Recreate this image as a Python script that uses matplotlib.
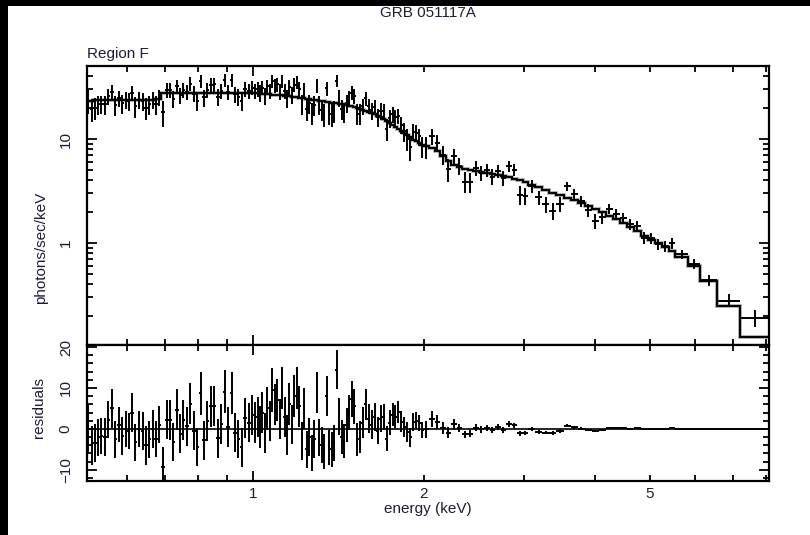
import numpy as np
import matplotlib.pyplot as plt
from matplotlib.patches import Rectangle
from matplotlib.ticker import FixedLocator, FixedFormatter, NullFormatter

plt.rcParams['font.family'] = ['Liberation Sans', 'DejaVu Sans']

# channel boundaries (keV) after grouping
edges = [
    0.510, 0.517, 0.524, 0.531, 0.538, 0.545, 0.553, 0.561, 0.569, 0.577, 0.585,
    0.593, 0.601, 0.609, 0.617, 0.626, 0.635, 0.644, 0.653, 0.662, 0.671, 0.680,
    0.690, 0.700, 0.710, 0.720, 0.730, 0.740, 0.750, 0.760, 0.771, 0.782, 0.793,
    0.804, 0.815, 0.826, 0.838, 0.850, 0.862, 0.874, 0.886, 0.898, 0.911, 0.924,
    0.937, 0.950, 0.963, 0.977, 0.991,
    1.005, 1.015, 1.025, 1.035, 1.045, 1.055, 1.066, 1.077, 1.088, 1.099, 1.110,
    1.121, 1.132, 1.143, 1.154, 1.166, 1.178, 1.190, 1.202, 1.214, 1.226, 1.238,
    1.251, 1.264, 1.277, 1.290, 1.303, 1.316, 1.329, 1.342, 1.356, 1.370, 1.384,
    1.398, 1.412, 1.426, 1.440, 1.455, 1.470, 1.485,
    1.500, 1.518, 1.536, 1.554, 1.573, 1.592, 1.611, 1.630, 1.650, 1.670, 1.690,
    1.710, 1.731, 1.752, 1.773, 1.794, 1.816, 1.838, 1.860, 1.883, 1.906, 1.929,
    1.952, 1.976,
    2.000, 2.045, 2.091, 2.138, 2.186, 2.235, 2.285, 2.337, 2.390, 2.444, 2.499,
    2.555, 2.613, 2.672, 2.732, 2.794, 2.857, 2.921, 2.987,
    3.055, 3.144, 3.235, 3.329, 3.426, 3.525, 3.627, 3.732, 3.840, 3.951, 4.065,
    4.183, 4.304, 4.429, 4.557, 4.689, 4.825,
    4.965, 5.10, 5.25, 5.40, 5.55, 5.84, 6.14, 6.57, 7.20, 8.10,
]

# unfolded spectrum, photons/sec/keV
flux = [
    23.4, 19.4, 20.0, 21.5, 21.8, 21.6, 25.8, 28.6, 21.2, 24.7, 22.0, 23.8, 23.3,
    27.8, 20.6, 23.9, 23.4, 20.0, 21.5, 24.0, 21.6, 25.1,
    18.1, 29.8, 29.7, 24.4, 32.3, 26.5, 29.8, 28.3, 34.0, 27.4, 23.4, 36.5, 25.1,
    29.8, 33.4, 33.5, 25.6, 29.1, 37.0, 28.4, 36.7, 26.9, 25.3, 23.3, 30.4, 29.2,
    31.2,
    29.1, 30.5, 27.9, 31.3, 26.2, 32.1, 29.0, 36.3, 32.7, 33.6, 28.9, 36.3, 29.1,
    24.5, 31.8, 26.6, 33.4, 35.2, 30.5, 21.8, 29.6, 19.4, 22.2, 18.0, 21.3, 32.6,
    21.4, 19.2, 17.5, 30.8, 18.1, 17.4, 18.7, 36.5, 24.8, 19.6, 18.3, 22.1, 24.9,
    28.0,
    25.9, 17.5, 17.6, 20.7, 24.8, 20.9, 18.9, 20.4, 16.3, 18.7, 18.6, 12.6, 15.9,
    17.3, 16.2, 16.8, 13.8, 11.9, 10.1, 8.4, 11.7, 11.5, 10.6, 8.5,
    8.5, 10.6, 9.2, 7.1, 5.2, 6.9, 5.55, 3.9, 3.85, 5.25, 4.75, 5.05, 4.35, 4.95,
    4.25, 5.5, 5.05, 2.9, 2.85,
    3.55, 2.75, 2.35, 2.05, 2.38, 3.52, 2.97, 2.52, 2.07, 1.62, 1.78, 2.14, 1.90,
    1.76, 1.53, 1.45, 1.12,
    1.12, 0.97, 0.93, 1.00, 0.78, 0.63, 0.44, 0.28, 0.19,
]

flux_err = [
    6.0, 4.8, 4.6, 4.5, 4.4, 4.6, 4.5, 4.7, 4.5, 4.3, 4.6, 4.4, 4.5, 4.8, 4.5,
    4.4, 4.6, 4.7, 4.5, 4.6, 4.4, 4.5,
    5.0, 4.8, 4.9, 4.7, 5.0, 4.8, 4.9, 4.8, 5.1, 4.8, 4.7, 5.2, 4.8, 4.9, 5.0,
    5.0, 4.8, 4.9, 5.2, 4.8, 5.1, 4.8, 4.7, 4.7, 4.9, 4.8, 4.9,
    5.0, 4.9, 5.1, 5.0, 4.8, 5.2, 4.9, 5.3, 5.0, 5.1, 4.9, 5.2, 4.9, 4.8, 5.1,
    4.8, 5.1, 5.2, 5.0, 4.6, 5.0, 4.5, 4.6, 4.4, 4.6, 5.0, 4.5, 4.4, 4.3, 4.9,
    4.3, 4.3, 4.4, 4.8, 4.5, 4.2, 4.1, 4.2, 4.3, 4.4,
    4.2, 4.0, 3.9, 3.8, 3.8, 3.6, 3.5, 3.4, 3.3, 3.3, 3.2, 3.0, 3.0, 2.9, 2.8,
    2.7, 2.6, 2.5, 2.4, 2.3, 2.2, 2.1, 2.0, 1.9,
    2.0, 1.9, 1.7, 1.5, 1.3, 1.2, 1.0, 0.9, 0.85, 0.85, 0.8, 0.75, 0.75, 0.7,
    0.7, 0.7, 0.65, 0.6, 0.55,
    0.5, 0.45, 0.42, 0.4, 0.38, 0.36, 0.34, 0.32, 0.3, 0.27, 0.26, 0.24, 0.22,
    0.2, 0.19, 0.17, 0.15,
    0.14, 0.12, 0.11, 0.12, 0.08, 0.07, 0.05, 0.04, 0.035,
]

# folded best-fit model in each channel
model = [
    23.4, 23.4, 23.5, 23.5, 23.5, 23.6, 23.6, 23.6, 23.7, 23.7, 23.7, 23.8, 23.8,
    23.8, 23.9, 23.9, 23.9, 24.0, 24.0, 24.0, 24.1, 24.1,
    27.5, 27.5, 27.6, 27.6, 27.6, 27.7, 27.7, 27.7, 27.8, 27.8, 27.8, 27.8, 27.9,
    27.9, 27.9, 27.9, 27.9, 27.9, 27.9, 27.9, 27.9, 27.8, 27.8, 27.8, 27.8, 27.7,
    27.7,
    27.6, 27.5, 27.4, 27.3, 27.2, 27.1, 27.0, 26.8, 26.7, 26.6, 26.4, 26.3, 26.1,
    26.0, 25.8, 25.6, 25.4, 25.2, 25.0, 24.8, 24.6, 24.4, 24.2, 24.0, 23.8, 23.6,
    23.4, 23.2, 23.0, 22.8, 22.6, 22.4, 22.2, 22.0, 21.8, 21.6, 21.3, 21.1, 20.9,
    20.7,
    20.4, 20.0, 19.6, 19.2, 18.8, 18.4, 17.9, 17.4, 16.8, 16.2, 15.6, 15.0, 14.4,
    13.8, 13.2, 12.6, 12.0, 11.4, 10.9, 10.4, 9.9, 9.5, 9.1, 8.8,
    8.6, 8.2, 7.6, 6.9, 6.1, 5.6, 5.35, 5.2, 5.05, 4.95, 4.85, 4.75, 4.65, 4.55,
    4.45, 4.3, 4.15, 4.0, 3.85,
    3.65, 3.45, 3.25, 3.05, 2.88, 2.72, 2.57, 2.42, 2.27, 2.12, 1.98, 1.84, 1.70,
    1.56, 1.43, 1.30, 1.17,
    1.08, 0.99, 0.91, 0.83, 0.74, 0.60, 0.43, 0.25, 0.125,
]

edges = np.array(edges)
flux = np.array(flux)
flux_err = np.array(flux_err)
model = np.array(model)

e_mid = 0.5 * (edges[1:] + edges[:-1])
e_half = 0.5 * (edges[1:] - edges[:-1])
resid = flux - model

W, H = 810, 535
fig = plt.figure(figsize=(W / 100, H / 100), dpi=100)
txt = '#1c1c3a'
fs = 11

ax = fig.add_axes([86.7 / W, 1 - 345 / H, 682 / W, 279 / H])
ax2 = fig.add_axes([86.7 / W, 1 - 480.5 / H, 682 / W, 135.5 / H], sharex=ax)

ax.errorbar(e_mid, flux, xerr=e_half, yerr=flux_err, fmt='none',
            ecolor='black', elinewidth=1.4, capsize=0)
# soft grey halo under the model histogram, then the model itself
ax.stairs(model, edges, baseline=None, color='#a0a0a0', lw=2.6)
ax.stairs(model, edges, baseline=None, color='black', lw=1.4)

ax2.errorbar(e_mid, resid, xerr=e_half, yerr=flux_err, fmt='none',
             ecolor='black', elinewidth=1.4, capsize=0)
ax2.axhline(0, color='black', lw=1.2)

ax.set_xscale('log')
ax.set_yscale('log')
ax.set_xlim(0.51, 8.1)
ax.set_ylim(0.1046, 50.4)
ax2.set_ylim(-12.6, 20.5)

xmin = [0.6, 0.7, 0.8, 0.9, 2, 3, 4, 5, 6, 7, 8]
xmin_lab = ['', '', '', '', '2', '', '', '5', '', '', '']
for a in (ax, ax2):
    a.xaxis.set_major_locator(FixedLocator([1]))
    a.xaxis.set_minor_locator(FixedLocator(xmin))
ax.xaxis.set_major_formatter(NullFormatter())
ax.xaxis.set_minor_formatter(NullFormatter())
ax2.xaxis.set_major_formatter(FixedFormatter(['1']))
ax2.xaxis.set_minor_formatter(FixedFormatter(xmin_lab))

ax.yaxis.set_major_locator(FixedLocator([1, 10]))
ax.yaxis.set_major_formatter(FixedFormatter(['1', '10']))
ax.yaxis.set_minor_locator(FixedLocator([0.2, 0.3, 0.4, 0.5, 0.6, 0.7, 0.8, 0.9,
                                         2, 3, 4, 5, 6, 7, 8, 9, 20, 30, 40]))
ax.yaxis.set_minor_formatter(NullFormatter())

ax2.yaxis.set_major_locator(FixedLocator([-10, 0, 10, 20]))
ax2.yaxis.set_major_formatter(FixedFormatter(['\u221210', '0', '10', '20']))
ax2.yaxis.set_minor_locator(FixedLocator(np.arange(-12, 21, 2)))
ax2.yaxis.set_minor_formatter(NullFormatter())

for a in (ax, ax2):
    for s in a.spines.values():
        s.set_linewidth(1.6)
    a.tick_params(which='both', direction='in', top=True, right=True,
                  width=1.3, colors='black', labelcolor=txt, labelsize=fs)
    a.tick_params(which='major', length=7)
    a.tick_params(which='minor', length=4.5)
    a.tick_params(axis='y', which='both', labelrotation=90, pad=10)
    a.tick_params(axis='x', which='both', pad=5)
    for t in a.get_yticklabels():
        t.set_va('center')

fig.text(427.7 / W, 1 - 13 / H, 'GRB 051117A', ha='center', va='center',
         color=txt, fontsize=fs)
fig.text(87 / W, 1 - 54 / H, 'Region F', ha='left', va='center',
         color=txt, fontsize=fs)
fig.text(41.5 / W, 1 - 248 / H, 'photons/sec/keV', rotation=90, ha='center',
         va='center', color=txt, fontsize=fs)
fig.text(38.5 / W, 1 - 408 / H, 'residuals', rotation=90, ha='center',
         va='center', color=txt, fontsize=fs)
fig.text(427.7 / W, 1 - 509 / H, 'energy (keV)', ha='center', va='center',
         color=txt, fontsize=fs)

# dark frame strips along the top and left edges
fig.add_artist(Rectangle((0, 0), 8 / W, 1, transform=fig.transFigure,
                         color='black', lw=0))
fig.add_artist(Rectangle((0, 1 - 6 / H), 1, 6 / H, transform=fig.transFigure,
                         color='black', lw=0))

fig.savefig('out.png', dpi=100)
